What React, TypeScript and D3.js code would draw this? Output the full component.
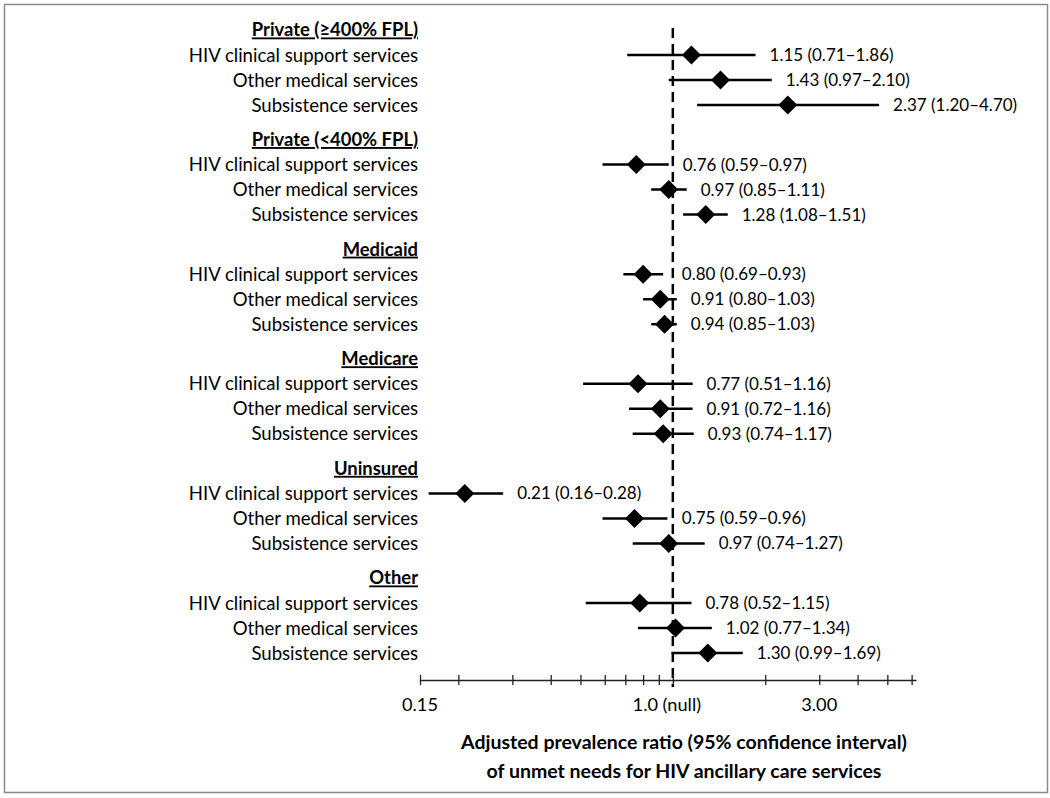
import { useEffect, useRef } from 'react';
import * as d3 from 'd3';

const groups = ['Private (≥400% FPL)', 'Private (<400% FPL)', 'Medicaid', 'Medicare', 'Uninsured', 'Other'];
const services = ['HIV clinical support services', 'Other medical services', 'Subsistence services'];

// one row per group x service, in the order drawn
const estimates = [1.15, 1.43, 2.37, 0.76, 0.97, 1.28, 0.80, 0.91, 0.94, 0.77, 0.91, 0.93, 0.21, 0.75, 0.97, 0.78, 1.02, 1.30];
const lowers = [0.71, 0.97, 1.20, 0.59, 0.85, 1.08, 0.69, 0.80, 0.85, 0.51, 0.72, 0.74, 0.16, 0.59, 0.74, 0.52, 0.77, 0.99];
const uppers = [1.86, 2.10, 4.70, 0.97, 1.11, 1.51, 0.93, 1.03, 1.03, 1.16, 1.16, 1.17, 0.28, 0.96, 1.27, 1.15, 1.34, 1.69];

const tickValues = [0.15, 0.2, 0.3, 0.4, 0.5, 0.6, 0.7, 0.8, 0.9, 1, 2, 3, 4, 5, 6];
const axisLabelValues = [0.15, 1, 3];
const axisLabels = ['0.15', '1.0 (null)', '3.00'];

const W = 1050;
const H = 798;
const FONT = 'Lato, "Open Sans", sans-serif';

const x = d3.scaleLog().domain([0.15, 6.2]).range([420, 916]);
const groupY = d3.scaleLinear().domain([0, 1]).range([30, 139.6]);
const rowPitch = 25;
const axisY = 680;
const labelRight = 418;

const fmt = (v: number) => v.toFixed(2);

const App = () => {
  const axisRef = useRef<SVGGElement | null>(null);

  useEffect(() => {
    if (!axisRef.current) return;
    const g = d3.select(axisRef.current);
    g.selectAll('*').remove();
    g.call(
      d3.axisBottom(x)
        .tickValues(tickValues)
        .tickSizeOuter(0)
        .tickSizeInner(5)
        .tickFormat(() => '')
    );
    g.select('.domain').attr('stroke', '#222').attr('stroke-width', 1.3);
    g.selectAll('.tick line')
      .attr('y1', -5)
      .attr('y2', 5)
      .attr('stroke', '#222')
      .attr('stroke-width', 1.3);
  }, []);

  const rows = estimates.map((est, k) => {
    const gi = Math.floor(k / services.length);
    const si = k % services.length;
    return {
      est,
      lo: lowers[k],
      hi: uppers[k],
      label: services[si],
      y: groupY(gi) + (si + 1) * rowPitch,
    };
  });

  const x1 = x(1);
  const d = 9.5;

  // value label sits right of the CI, but never on top of the null line
  const labelX = (hi: number) => {
    const pos = x(hi) + 14;
    return pos > x1 - 12 ? Math.max(pos, x1 + 9) : pos;
  };

  return (
    <svg width={W} height={H} style={{ position: 'absolute', left: 0, top: 0, background: '#fff' }}>
      <rect x={4.5} y={4.5} width={1043} height={788} fill="#fff" stroke="#8a8a8a" strokeWidth={1.5} />

      {groups.map((name, gi) => (
        <text
          key={name}
          x={labelRight}
          y={groupY(gi)}
          dy="0.35em"
          textAnchor="end"
          fontFamily={FONT}
          fontSize={18.4}
          fontWeight="bold"
          fill="#000"
          style={{ textDecoration: 'underline' }}
        >
          {name}
        </text>
      ))}

      {rows.map((r, k) => (
        <text key={'l' + k} x={labelRight} y={r.y} dy="0.35em" textAnchor="end" fontFamily={FONT} fontSize={18.6} fill="#000">
          {r.label}
        </text>
      ))}

      <line x1={x1} x2={x1} y1={28} y2={687} stroke="#000" strokeWidth={2.5} strokeDasharray="10,6" />

      <g ref={axisRef} transform={`translate(0,${axisY})`} />

      {rows.map((r, k) => (
        <g key={'m' + k}>
          <line x1={x(r.lo)} x2={x(r.hi)} y1={r.y} y2={r.y} stroke="#000" strokeWidth={2.5} />
          <path
            d={`M${x(r.est)},${r.y - d}L${x(r.est) + d},${r.y}L${x(r.est)},${r.y + d}L${x(r.est) - d},${r.y}Z`}
            fill="#000"
          />
          <text x={labelX(r.hi)} y={r.y} dy="0.35em" fontFamily={FONT} fontSize={17} fill="#000">
            {`${fmt(r.est)} (${fmt(r.lo)}–${fmt(r.hi)})`}
          </text>
        </g>
      ))}

      {axisLabelValues.map((v, i) => (
        <text
          key={axisLabels[i]}
          x={v === 1 ? x(v) - 6 : x(v)}
          y={705}
          dy="0.35em"
          textAnchor="middle"
          fontFamily={FONT}
          fontSize={18.2}
          fill="#000"
        >
          {axisLabels[i]}
        </text>
      ))}

      <text x={684} y={742} dy="0.35em" textAnchor="middle" fontFamily={FONT} fontSize={19.5} fontWeight="bold" fill="#000">
        Adjusted prevalence ratio (95% confidence interval)
      </text>
      <text x={684} y={771} dy="0.35em" textAnchor="middle" fontFamily={FONT} fontSize={19.5} fontWeight="bold" fill="#000">
        of unmet needs for HIV ancillary care services
      </text>
    </svg>
  );
};

export default App;
